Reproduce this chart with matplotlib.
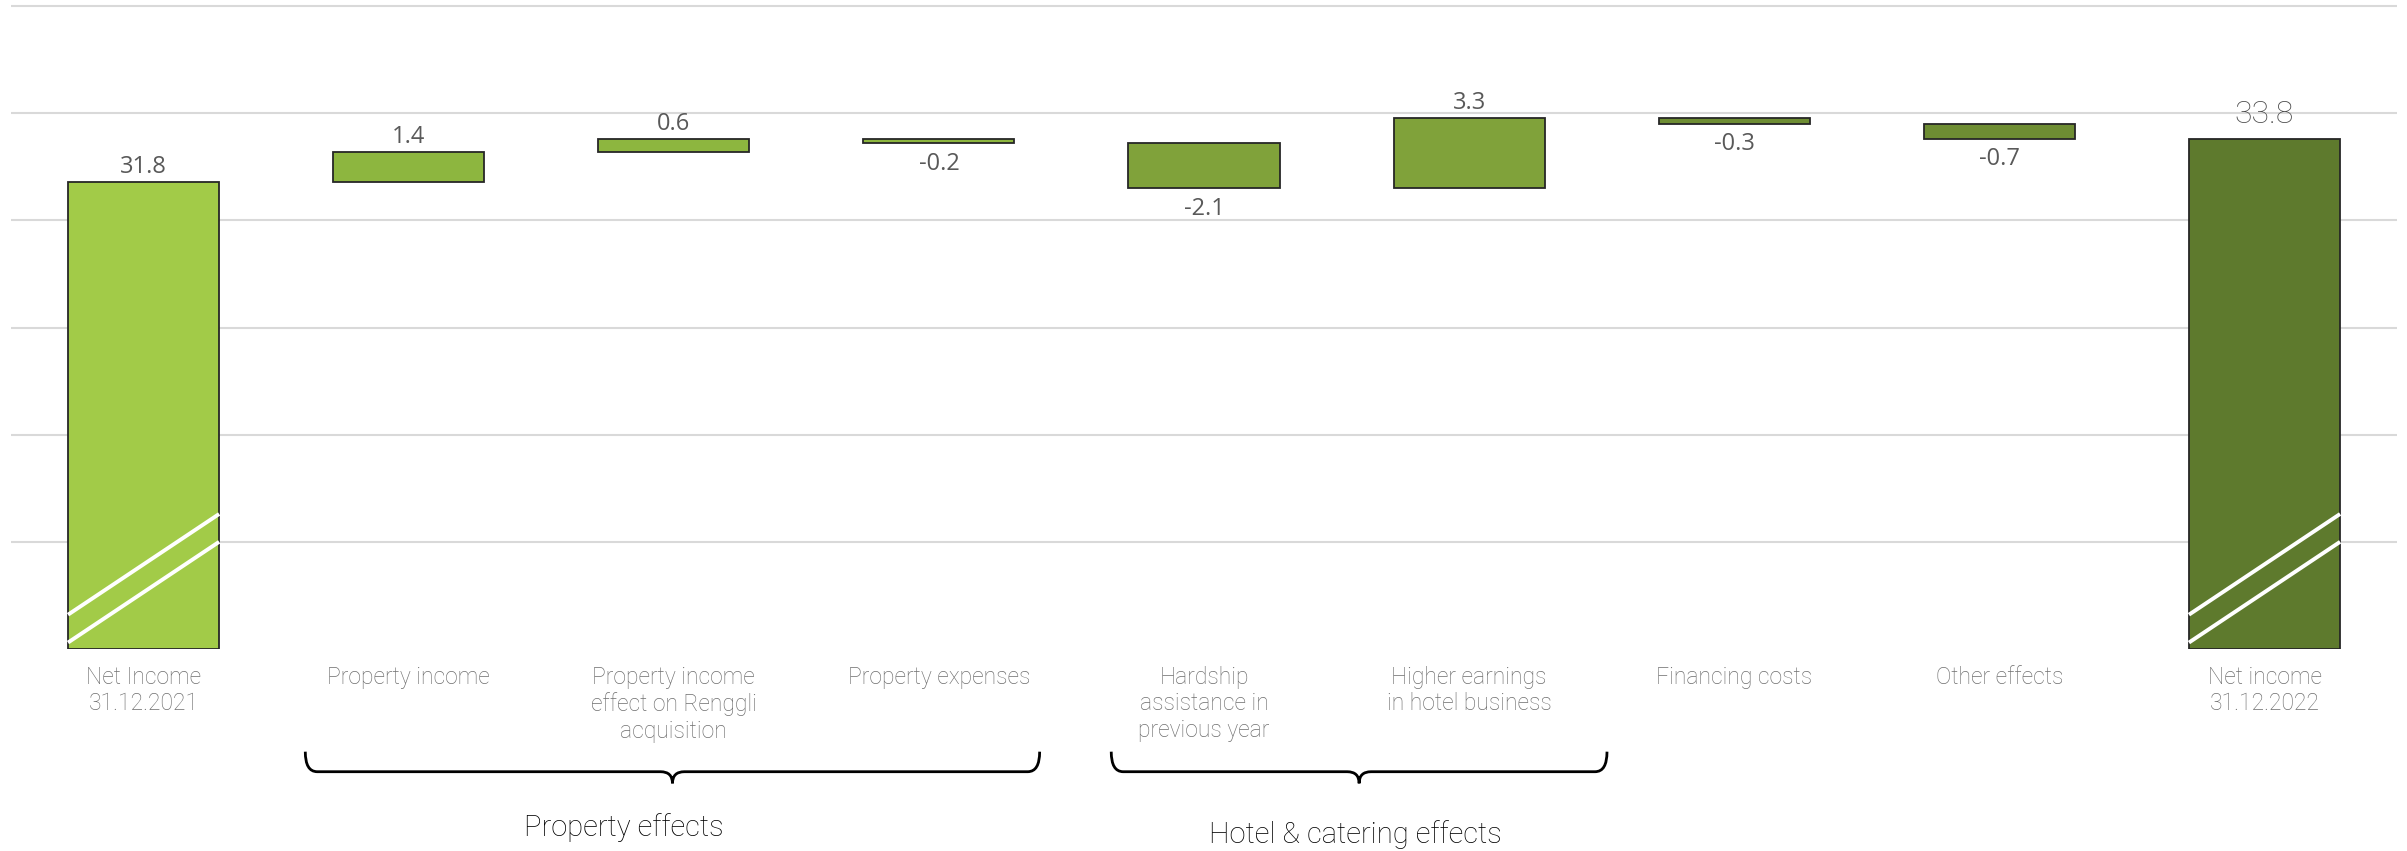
import matplotlib.pyplot as plt
from matplotlib.path import Path
from matplotlib.patches import PathPatch
import numpy as np

# Net income bridge 2021 -> 2022 (CHF m)
categories = ['Net Income\n31.12.2021', 'Property income',
              'Property income\neffect on Renggli\nacquisition', 'Property expenses',
              'Hardship\nassistance in\nprevious year', 'Higher earnings\nin hotel business',
              'Financing costs', 'Other effects', 'Net income\n31.12.2022']
start_value = 31.8
changes = [1.4, 0.6, -0.2, -2.1, 3.3, -0.3, -0.7]
end_value = 33.8
axis_floor = 10  # y axis is broken, bars start here

bar_colors = ['#A2CB48', '#8DB63F', '#8DB63F', '#8DB63F', '#80A23A',
              '#80A23A', '#6E8D33', '#6E8D33', '#5E7A2D']

# groups under braces: (label, x from, x to, label x, label y)
groups = [('Property effects', 0.61, 3.38, 1.81, -0.277),
          ('Hotel & catering effects', 3.65, 5.52, 4.57, -0.288)]

plt.rcParams['font.family'] = ['Roboto', 'DejaVu Sans']

fig = plt.figure(figsize=(24.07, 8.51), dpi=100)
ax = fig.add_axes([0.00457, 0.2374, 0.9913, 0.7591])

x = np.arange(len(categories))
width = 0.57

# running totals for the floating bars
before = start_value + np.concatenate([[0], np.cumsum(changes)[:-1]])
bottoms = [axis_floor] + list(before) + [axis_floor]
heights = [start_value - axis_floor] + changes + [end_value - axis_floor]

ax.bar(x, heights, bottom=bottoms, width=width, color=bar_colors,
       edgecolor='#262626', linewidth=1.3, zorder=2)

# value labels
lab_font = ['Open Sans', 'DejaVu Sans']
ax.annotate(f'{start_value:.1f}', (x[0], start_value), xytext=(0, 2),
            textcoords='offset points', ha='center', va='bottom',
            fontsize=17, color='#595959', family=lab_font)
for i, d in enumerate(changes, start=1):
    if d >= 0:
        ax.annotate(f'{d:.1f}', (x[i], bottoms[i] + d), xytext=(0, 2),
                    textcoords='offset points', ha='center', va='bottom',
                    fontsize=17, color='#595959', family=lab_font)
    else:
        ax.annotate(f'{d:.1f}', (x[i], bottoms[i] + d), xytext=(0, -6),
                    textcoords='offset points', ha='center', va='top',
                    fontsize=17, color='#595959', family=lab_font)
ax.annotate(f'{end_value:.1f}', (x[-1], end_value), xytext=(0, 7),
            textcoords='offset points', ha='center', va='bottom',
            fontsize=23, color='#4D4D4D', fontweight='light',
            family=['Roboto', 'DejaVu Sans'])

# axis break marks on the two total bars
for xi in (x[0], x[-1]):
    for y0, y1 in ((11.6, 16.3), (10.3, 15.0)):
        ax.plot([xi - width / 2, xi + width / 2], [y0, y1], color='white',
                lw=2.8, zorder=3, solid_capstyle='butt')

ax.set_xlim(-0.5, 8.5)
ax.set_ylim(axis_floor, 40.15)
ax.set_yticks([15, 20, 25, 30, 35, 40])
ax.yaxis.grid(True, color='#D9D9D9', lw=1.5)
ax.set_axisbelow(True)
ax.tick_params(axis='y', left=False, labelleft=False)
ax.set_xticks(x)
ax.set_xticklabels(categories, fontsize=16.5, color='#6E6E6E',
                   fontweight='light', linespacing=1.2)
ax.tick_params(axis='x', length=0, pad=12)
for s in ax.spines.values():
    s.set_visible(False)

# braces below the category labels
tr = ax.get_xaxis_transform()
y_top, y_line, y_tip = -0.159, -0.190, -0.208
r = 0.045
for name, x0, x1, xl, yl in groups:
    xm = (x0 + x1) / 2
    verts = [(x0, y_top), (x0, y_line), (x0 + r, y_line),
             (xm - r, y_line), (xm, y_line), (xm, y_tip),
             (xm, y_line), (xm + r, y_line),
             (x1 - r, y_line), (x1, y_line), (x1, y_top)]
    codes = [Path.MOVETO, Path.CURVE3, Path.CURVE3,
             Path.LINETO, Path.CURVE3, Path.CURVE3,
             Path.CURVE3, Path.CURVE3,
             Path.LINETO, Path.CURVE3, Path.CURVE3]
    ax.add_patch(PathPatch(Path(verts, codes), transform=tr, fill=False,
                           edgecolor='black', lw=2.0, clip_on=False))
    ax.text(xl, yl, name, transform=tr, ha='center', va='center',
            fontsize=21, color='black', fontweight='light')

fig.savefig('out.png', dpi=100)
